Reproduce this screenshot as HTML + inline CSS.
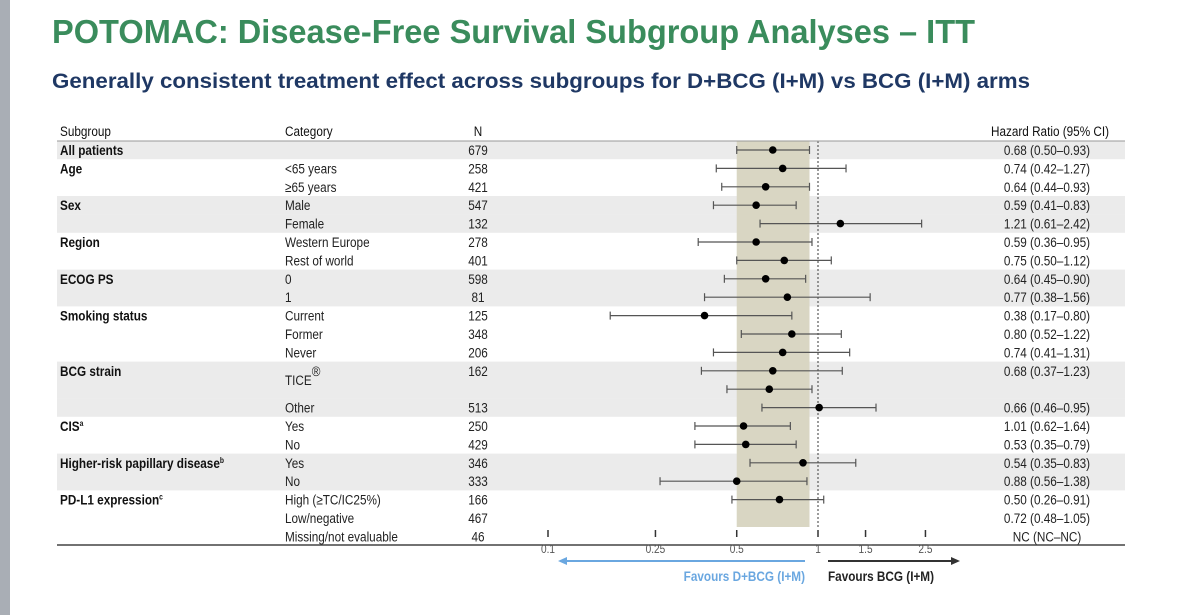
<!DOCTYPE html>
<html><head><meta charset="utf-8"><style>
html,body{margin:0;padding:0;background:#fff;}
svg{display:block;font-family:"Liberation Sans Narrow","Liberation Sans",sans-serif;}
</style></head><body>
<svg id="c" width="1200" height="615" viewBox="0 0 1200 615">
<rect x="0" y="0" width="10" height="615" fill="#a9aeb5"/>
<text x="52" y="43" font-family="Liberation Sans, sans-serif" font-weight="bold" font-size="33" fill="#3a8c5c" textLength="923" lengthAdjust="spacingAndGlyphs">POTOMAC: Disease-Free Survival Subgroup Analyses – ITT</text>
<text x="52" y="88" font-family="Liberation Sans, sans-serif" font-weight="bold" font-size="21" fill="#1f3864" textLength="978" lengthAdjust="spacingAndGlyphs">Generally consistent treatment effect across subgroups for D+BCG (I+M) vs BCG (I+M) arms</text>
<g id="bg"></g><g id="plot"></g><g id="tbl"></g>
</svg>
<script>
const subgroups=["All patients","Age","","Sex","","Region","","ECOG PS","","Smoking status","","","BCG strain","","","CIS","","Higher-risk papillary disease","","PD-L1 expression","",""];
const categories=["","<65 years","≥65 years","Male","Female","Western Europe","Rest of world","0","1","Current","Former","Never","","TICE","Other","Yes","No","Yes","No","High (≥TC/IC25%)","Low/negative","Missing/not evaluable"];
const nValues=["679","258","421","547","132","278","401","598","81","125","348","206","162","","513","250","429","346","333","166","467","46"];
const hrLabels=["0.68 (0.50–0.93)","0.74 (0.42–1.27)","0.64 (0.44–0.93)","0.59 (0.41–0.83)","1.21 (0.61–2.42)","0.59 (0.36–0.95)","0.75 (0.50–1.12)","0.64 (0.45–0.90)","0.77 (0.38–1.56)","0.38 (0.17–0.80)","0.80 (0.52–1.22)","0.74 (0.41–1.31)","0.68 (0.37–1.23)","","0.66 (0.46–0.95)","1.01 (0.62–1.64)","0.53 (0.35–0.79)","0.54 (0.35–0.83)","0.88 (0.56–1.38)","0.50 (0.26–0.91)","0.72 (0.48–1.05)","NC (NC–NC)"];
const hr=[0.68,0.74,0.64,0.59,1.21,0.59,0.75,0.64,0.77,0.38,0.80,0.74,0.68,0.66,1.01,0.53,0.54,0.88,0.50,0.72];
const lower=[0.50,0.42,0.44,0.41,0.61,0.36,0.50,0.45,0.38,0.17,0.52,0.41,0.37,0.46,0.62,0.35,0.35,0.56,0.26,0.48];
const upper=[0.93,1.27,0.93,0.83,2.42,0.95,1.12,0.90,1.56,0.80,1.22,1.31,1.23,0.95,1.64,0.79,0.83,1.38,0.91,1.05];
const tickValues=[0.1,0.25,0.5,1,1.5,2.5];
const tickLabels=["0.1","0.25","0.5","1","1.5","2.5"];
const shadedLow=0.5, shadedHigh=0.93;
const greyRows=[0,3,4,7,8,12,13,14,17,18];

const NS="http://www.w3.org/2000/svg";
const xs=v=>818+270*Math.log10(v);
const ys=i=>150+i*18.4;
const SX=0.84;
function mk(tag,attrs,parent,txt){const e=document.createElementNS(NS,tag);for(const k in attrs)e.setAttribute(k,attrs[k]);if(txt!==undefined)e.textContent=txt;parent.appendChild(e);return e;}
function tx(x,y,attrs,parent,txt){const a=Object.assign({x:0,y:0,transform:`translate(${x},${y}) scale(${SX},1)`},attrs);return mk('text',a,parent,txt);}
const bg=document.getElementById('bg'),plot=document.getElementById('plot'),tbl=document.getElementById('tbl');

greyRows.forEach(i=>{const r=mk('rect',{x:57,y:ys(i)-9.2,width:1068,height:18.4,fill:'#ebebeb'},bg);

});

const band=mk('rect',{x:xs(shadedLow),y:141,width:xs(shadedHigh)-xs(shadedLow),height:386,fill:'#d9d6c3'},bg);


const ref=mk('line',{x1:xs(1),x2:xs(1),y1:141,y2:528,stroke:'#666','stroke-width':1.3,'stroke-dasharray':'2,2'},bg);



const hs={'font-size':14,fill:'#111'};
[["Subgroup",60,'start'],["Category",285,'start'],["N",478,'middle'],["Hazard Ratio (95% CI)",1050,'middle']].forEach(h=>{
const t=tx(h[1],136,Object.assign({'text-anchor':h[2]},hs),tbl,h[0]);

});
const hl=mk('line',{x1:57,x2:1125,y1:141,y2:141,stroke:'#999','stroke-width':1},tbl);



subgroups.forEach((s,i)=>{const y=ys(i)+5;
if(s){let sup='';if(s==="CIS")sup='a';if(s.startsWith("Higher"))sup='b';if(s.startsWith("PD-L1"))sup='c';
const t=tx(60,y,{'font-size':14,'font-weight':'bold',fill:'#111'},tbl,s);
if(sup){mk('tspan',{'font-size':8,dy:-5},t,sup);}

}
if(categories[i]){let yy=y;if(categories[i]==="TICE")yy=ys(12)+14;
const t=tx(285,yy,{'font-size':14,fill:'#222'},tbl,categories[i]);
if(categories[i]==="TICE"){mk('tspan',{'font-size':14,dy:-9},t,'®');}

}
if(nValues[i]){const t=tx(478,y,{'font-size':14,fill:'#222','text-anchor':'middle'},tbl,nValues[i]);

}
if(hrLabels[i]){const t=tx(1047,y,{'font-size':14,fill:'#222','text-anchor':'middle'},tbl,hrLabels[i]);

}
});

hr.forEach((v,i)=>{const y=ys(i),x1=xs(lower[i]),x2=xs(upper[i]);
const g=mk('g',{},plot);


mk('line',{x1:x1,x2:x2,y1:y,y2:y,stroke:'#555','stroke-width':1.2},g);
mk('line',{x1:x1,x2:x1,y1:y-4,y2:y+4,stroke:'#555','stroke-width':1.2},g);
mk('line',{x1:x2,x2:x2,y1:y-4,y2:y+4,stroke:'#555','stroke-width':1.2},g);
mk('circle',{cx:xs(v),cy:y,r:3.8,fill:'#000'},g);});

const ax=mk('line',{x1:57,x2:1125,y1:545,y2:545,stroke:'#444','stroke-width':1.5},plot);


tickValues.forEach((v,i)=>{const x=xs(v);
const tk=mk('line',{x1:x,x2:x,y1:530,y2:537,stroke:'#333','stroke-width':1.5},plot);


const t=tx(x,553,{'font-size':12,fill:'#555','text-anchor':'middle'},plot,tickLabels[i]);

});

const la=mk('g',{},plot);


mk('line',{x1:565,x2:805,y1:561,y2:561,stroke:'#6aa7e0','stroke-width':2},la);
mk('polygon',{points:'558,561 567,557 567,565',fill:'#6aa7e0'},la);
const lt=tx(805,581,{'font-size':14,'font-weight':'bold',fill:'#6aa7e0','text-anchor':'end'},plot,'Favours D+BCG (I+M)');


const ra=mk('g',{},plot);


mk('line',{x1:828,x2:953,y1:561,y2:561,stroke:'#333','stroke-width':2},ra);
mk('polygon',{points:'960,561 951,557 951,565',fill:'#333'},ra);
const rt=tx(828,581,{'font-size':14,'font-weight':'bold',fill:'#222'},plot,'Favours BCG (I+M)');


</script>
</body></html>
